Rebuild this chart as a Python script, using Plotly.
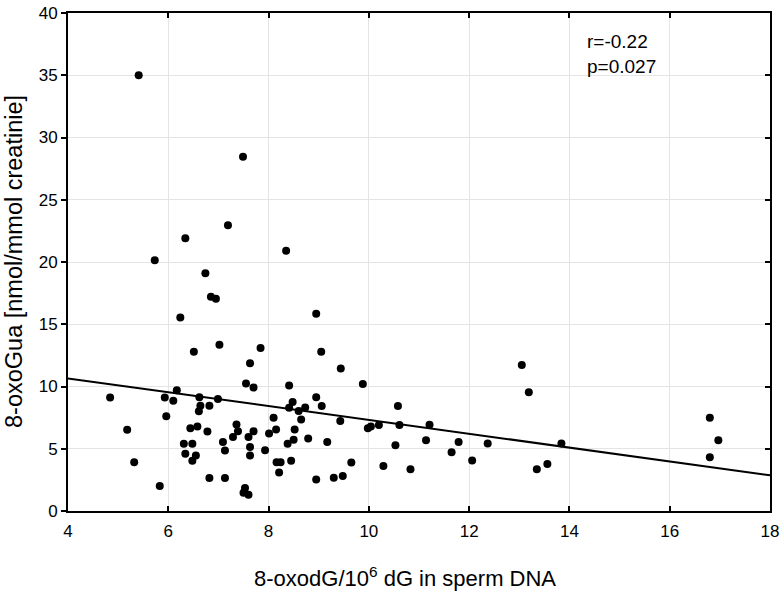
import plotly.graph_objects as go

x_vals = [5.41, 7.49, 7.19, 6.34, 8.35, 5.73, 6.74, 6.85, 6.95, 6.24,
          8.95, 6.51, 7.02, 7.84, 9.05, 7.63, 7.55, 7.70, 8.41, 4.84,
          6.17, 5.93, 6.10, 6.62, 6.99, 6.64, 6.82, 6.61, 8.95, 8.48,
          8.41, 8.60, 8.73, 9.06, 8.65, 5.96, 8.10, 5.18, 6.44, 6.58,
          6.78, 7.36, 7.39, 7.29, 7.60, 7.70, 8.01, 8.15, 8.52, 8.79,
          8.38, 8.50, 6.31, 6.48, 7.09, 6.34, 6.55, 6.48, 7.13, 7.63,
          7.63, 7.93, 8.16, 8.24, 8.21, 8.45, 5.32, 6.82, 7.13, 5.83,
          7.53, 7.50, 7.60, 8.95, 9.44, 9.88, 13.05, 13.19, 9.43, 9.98,
          10.04, 10.20, 10.58, 10.61, 11.21, 9.17, 10.53, 11.14, 11.79, 12.37,
          13.84, 11.65, 9.65, 12.06, 9.30, 9.48, 10.29, 10.83, 13.35, 13.56,
          16.80, 16.97, 16.80]
y_vals = [35.0, 28.45, 22.96, 21.9, 20.9, 20.15, 19.1, 17.2, 17.05, 15.55,
          15.85, 12.8, 13.36, 13.09, 12.8, 11.86, 10.24, 9.92, 10.08, 9.12,
          9.70, 9.12, 8.85, 9.13, 8.99, 8.45, 8.45, 8.02, 9.13, 8.75,
          8.30, 8.04, 8.32, 8.43, 7.34, 7.62, 7.48, 6.52, 6.64, 6.78,
          6.38, 6.94, 6.40, 5.95, 5.95, 6.40, 6.23, 6.55, 6.55, 5.82,
          5.40, 5.72, 5.40, 5.40, 5.55, 4.59, 4.46, 4.04, 4.86, 5.15,
          4.46, 4.87, 3.92, 3.92, 3.09, 4.03, 3.92, 2.66, 2.66, 2.0,
          1.85, 1.47, 1.31, 2.54, 11.45, 10.2, 11.72, 9.53, 7.22, 6.64,
          6.78, 6.90, 8.43, 6.90, 6.92, 5.55, 5.29, 5.69, 5.55, 5.42,
          5.42, 4.72, 3.90, 4.05, 2.67, 2.82, 3.62, 3.35, 3.35, 3.78,
          7.48, 5.69, 4.32]

fit_x = [4, 18]
fit_y = [10.65, 2.87]

x_ticks = [4, 6, 8, 10, 12, 14, 16, 18]
y_ticks = [0, 5, 10, 15, 20, 25, 30, 35, 40]

FONT = "Liberation Sans, Arial, sans-serif"

fig = go.Figure()
fig.add_trace(go.Scatter(x=fit_x, y=fit_y, mode="lines",
                         line=dict(color="black", width=2), showlegend=False,
                         hoverinfo="skip"))
fig.add_trace(go.Scatter(x=x_vals, y=y_vals, mode="markers",
                         marker=dict(color="black", size=8), showlegend=False))
# right-side axis for inward ticks
fig.add_trace(go.Scatter(x=[None], y=[None], yaxis="y2", showlegend=False))

fig.update_layout(
    width=782, height=591,
    margin=dict(l=68, r=12, t=13, b=80),
    paper_bgcolor="white", plot_bgcolor="white",
    font=dict(family=FONT, color="black", size=17),
    xaxis=dict(range=[4, 18], tickvals=x_ticks, ticktext=[str(v) for v in x_ticks],
               showgrid=True, gridcolor="#e4e4e4", gridwidth=1, automargin=False,
               zeroline=False, showline=True, linecolor="black", linewidth=2,
               mirror="ticks", ticks="inside", ticklen=5, tickwidth=1.5,
               tickcolor="black", tickfont=dict(size=17), ticklabelstandoff=4),
    yaxis=dict(range=[0, 40], tickvals=y_ticks, ticktext=[str(v) for v in y_ticks],
               showgrid=True, gridcolor="#e4e4e4", gridwidth=1, automargin=False,
               zeroline=False, showline=True, linecolor="black", linewidth=2,
               mirror=True, ticks="outside", ticklen=5, tickwidth=1.5,
               tickcolor="black", tickfont=dict(size=17)),
    yaxis2=dict(range=[0, 40], tickvals=y_ticks, overlaying="y", side="right",
                showgrid=False, zeroline=False, showticklabels=False, automargin=False,
                ticks="inside", ticklen=5, tickwidth=1.5, tickcolor="black",
                showline=False),
    annotations=[
        dict(text="8-oxodG/10<sup>6</sup> dG in sperm DNA", xref="paper", yref="paper",
             x=0.5, y=0, xshift=-14, yshift=-66, showarrow=False, font=dict(size=22),
             xanchor="center", yanchor="middle"),
        dict(text="8-oxoGua [nmol/mmol creatinie]", xref="paper", yref="paper",
             x=0, y=0.5, xshift=-54, showarrow=False, font=dict(size=23.5),
             textangle=-90, xanchor="center", yanchor="middle"),
        dict(text="r=-0.22<br>p=0.027", xref="paper", yref="paper",
             x=(585 - 68) / 702, y=1, yshift=-16, showarrow=False,
             font=dict(size=19), align="left", xanchor="left", yanchor="top"),
    ],
)

fig.write_html("out.html", config={"displayModeBar": False},
               post_script="document.body.style.margin='0';")
